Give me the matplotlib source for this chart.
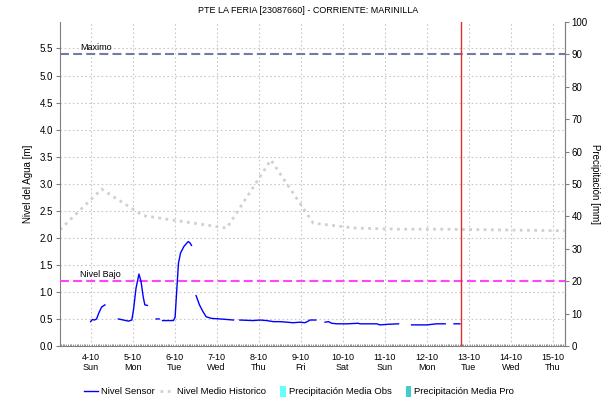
import numpy as np
import matplotlib
matplotlib.use("Agg")
import matplotlib.pyplot as plt
from matplotlib.lines import Line2D
from matplotlib.patches import Patch, Rectangle
from matplotlib.legend_handler import HandlerPatch
from matplotlib.ticker import MultipleLocator, FormatStrFormatter

plt.rcParams["font.family"] = ["Liberation Sans", "DejaVu Sans"]

nan = np.nan

# x values are days of October 2020 (4.0 = 4-10 00:00)
day_ticks = [4, 5, 6, 7, 8, 9, 10, 11, 12, 13, 14, 15]
weekdays = ["Sun", "Mon", "Tue", "Wed", "Thu", "Fri", "Sat", "Sun", "Mon", "Tue", "Wed", "Thu"]

sensor_day = [4.00, 4.04, 4.09, 4.14, 4.20, 4.26, 4.34, nan,
              4.66, 4.78, 4.90, 4.98, 5.02, 5.08, 5.15, 5.20, 5.25, 5.29, 5.35, nan,
              5.56, 5.63, nan,
              5.71, 5.81, 5.97, 6.01, 6.05, 6.09, 6.14, 6.22, 6.32, 6.36, 6.40, nan,
              6.51, 6.59, 6.67, 6.75, 6.88, 7.08, 7.40, nan,
              7.55, 7.87, 8.03, 8.19, 8.35, 8.51, 8.67, 8.82, 8.98, 9.10, 9.18, 9.22, 9.36, nan,
              9.58, 9.66, 9.74, 9.86, 10.10, 10.37, 10.41, 10.81, 10.89, 11.05, 11.33, nan,
              11.64, 12.00, 12.24, 12.44, nan,
              12.65, 12.79]
sensor_level = [0.45, 0.49, 0.48, 0.50, 0.62, 0.72, 0.76, nan,
                0.50, 0.48, 0.46, 0.48, 0.67, 1.07, 1.33, 1.19, 0.91, 0.76, 0.75, nan,
                0.50, 0.50, nan,
                0.47, 0.47, 0.47, 0.53, 1.04, 1.53, 1.72, 1.84, 1.93, 1.91, 1.86, nan,
                0.93, 0.76, 0.64, 0.54, 0.51, 0.50, 0.48, nan,
                0.48, 0.47, 0.48, 0.47, 0.45, 0.45, 0.44, 0.43, 0.44, 0.43, 0.46, 0.48, 0.48, nan,
                0.44, 0.45, 0.42, 0.41, 0.41, 0.42, 0.41, 0.41, 0.39, 0.40, 0.41, nan,
                0.39, 0.39, 0.41, 0.41, nan,
                0.41, 0.41]

hist_day = [3.27, 4.26, 5.25, 7.24, 8.29, 9.30, 10.30, 11.30, 12.30, 13.30, 14.30, 15.28]
hist_level = [2.15, 2.90, 2.41, 2.18, 3.44, 2.27, 2.18, 2.16, 2.16, 2.15, 2.14, 2.13]

nivel_maximo = 5.4
nivel_bajo = 1.2
now_day = 12.82

GRID = "#c8c8c8"
SPINE = "#808080"


def narrow_box(legend, orig_handle, xdescent, ydescent, width, height, fontsize):
    # precipitation legend keys are thin upright boxes sitting just before the text
    return Rectangle((width - 4.0 - xdescent, -ydescent - 1.0), 4.0, height + 2.0)


fig = plt.figure(figsize=(6.16, 4.05), dpi=100)
ax = fig.add_axes([0.0974, 0.1457, 0.819, 0.80])

ax.plot(hist_day, hist_level, color="#d0d0d0", lw=2.0, ls=(0, (1, 1.6)), zorder=2)
ax.plot(sensor_day, sensor_level, color="#0000ff", lw=1.0, zorder=4)

ax.axhline(nivel_maximo, color="#6e7ca6", lw=1.5, ls=(0, (4.3, 2)), zorder=3)
ax.axhline(nivel_bajo, color="#ff44ff", lw=1.5, ls=(0, (4.3, 2)), zorder=3)
ax.text(3.75, nivel_maximo + 0.03, "Maximo", fontsize=6.5, va="bottom", ha="left")
ax.text(3.75, nivel_bajo + 0.03, "Nivel Bajo", fontsize=6.5, va="bottom", ha="left")
ax.axvline(now_day, color="#e03030", lw=1.0, zorder=5)

ax.set_xlim(3.27, 15.28)
ax.set_ylim(0, 5.99)
ax.set_xticks(day_ticks)
ax.set_xticklabels([f"{d}-10\n{w}" for d, w in zip(day_ticks, weekdays)], fontsize=6.5)
ax.xaxis.set_minor_locator(MultipleLocator(1 / 24))
ax.yaxis.set_major_locator(MultipleLocator(0.5))
ax.yaxis.set_major_formatter(FormatStrFormatter("%.1f"))
ax.tick_params(axis="y", labelsize=7, length=3, color=SPINE, pad=2)
ax.tick_params(axis="x", which="major", length=0, pad=5)
ax.tick_params(axis="x", which="minor", length=1.5, color=SPINE, direction="in")
ax.grid(True, which="major", color=GRID, ls=(0, (1.5, 2.2)), lw=0.8)
ax.spines["top"].set_visible(False)
for s in ("left", "bottom", "right"):
    ax.spines[s].set_color(SPINE)
ax.set_ylabel("Nivel del Agua [m]", fontsize=7, labelpad=5)

ax2 = ax.twinx()
ax2.set_ylim(0, 100)
ax2.yaxis.set_major_locator(MultipleLocator(10))
ax2.tick_params(axis="y", labelsize=7, length=3, color=SPINE, pad=2)
ax2.spines["top"].set_visible(False)
ax2.spines["right"].set_color(SPINE)
ax2.spines["left"].set_visible(False)
ax2.spines["bottom"].set_visible(False)
ax2.set_ylabel("Precipitación [mm]", fontsize=7, rotation=270, labelpad=9)

fig.suptitle("PTE LA FERIA [23087660] - CORRIENTE: MARINILLA", fontsize=6.5, y=0.985, x=0.5)

handles = [
    Line2D([], [], color="#0000ff", lw=1.0),
    Line2D([], [], color="#d0d0d0", lw=2.0, ls=(0, (1, 1.6))),
    Patch(facecolor="#66ffff", edgecolor="none"),
    Patch(facecolor="#44cccc", edgecolor="none"),
]
labels = ["Nivel Sensor", "Nivel Medio Historico", "Precipitación Media Obs", "Precipitación Media Pro"]
fig.legend(handles, labels, loc="lower center", bbox_to_anchor=(0.485, 0.0), ncol=4,
           frameon=False, fontsize=6.8, handlelength=1.5, handletextpad=0.3,
           columnspacing=0.6, handleheight=0.9,
           handler_map={Patch: HandlerPatch(patch_func=narrow_box)})

fig.savefig("out.png", dpi=100)
